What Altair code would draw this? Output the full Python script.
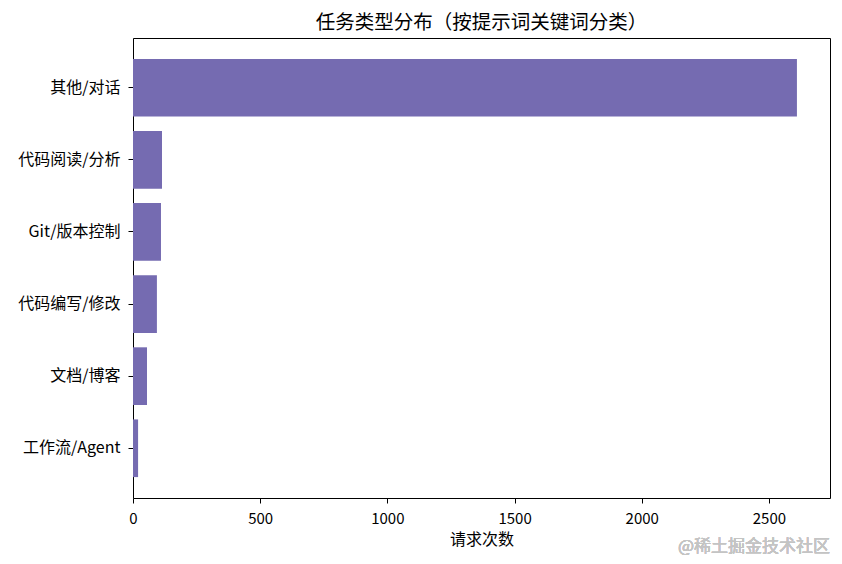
import altair as alt
import pandas as pd

categories = ["其他/对话", "代码阅读/分析", "Git/版本控制", "代码编写/修改", "文档/博客", "工作流/Agent"]
counts = [2610, 114, 110, 94, 55, 20]
x_ticks = [0, 500, 1000, 1500, 2000, 2500]

df = pd.DataFrame({"category": categories, "count": counts})

FONT = "Noto Sans CJK SC"

xscale = alt.Scale(domain=[0, 2740], nice=False, zero=True)
yscale = alt.Scale(paddingInner=0.2, paddingOuter=0.29)

bars = alt.Chart(df).mark_bar(color="#756bb1").encode(
    x=alt.X("count:Q", title="请求次数", scale=xscale,
            axis=alt.Axis(values=x_ticks, format="d", grid=False, labelFlush=False,
                          domainColor="black", tickColor="black", tickSize=5,
                          labelColor="black", labelFontSize=15, labelFont=FONT,
                          titleFont=FONT, titleFontSize=16, titleFontWeight="normal",
                          titleColor="black", titlePadding=5, labelPadding=8)),
    y=alt.Y("category:N", sort=categories, title=None, scale=yscale,
            axis=alt.Axis(domainColor="black", tickColor="black", tickSize=5,
                          labelColor="black", labelFontSize=16, labelFont=FONT,
                          labelPadding=8)),
)

frame = alt.Chart(df).mark_bar(opacity=0).encode(
    x=alt.X("count:Q", scale=xscale,
            axis=alt.Axis(orient="top", labels=False, ticks=False, grid=False,
                          domainColor="black", title=None)),
    y=alt.Y("category:N", sort=categories, scale=yscale,
            axis=alt.Axis(orient="right", labels=False, ticks=False, grid=False,
                          domainColor="black", title=None)),
)

watermark = alt.Chart(df).mark_text(
    text="@稀土掘金技术社区", color="#c4c4c4", fontSize=17, font=FONT, align="right", baseline="middle"
).encode(x=alt.value(697), y=alt.value(509))

chart = alt.layer(bars, frame, watermark).resolve_axis(x="independent", y="independent").properties(
    width=697, height=460,
    title=alt.TitleParams("任务类型分布（按提示词关键词分类）", font=FONT, fontSize=19.5,
                          fontWeight="normal", color="black", offset=5),
    autosize=alt.AutoSizeParams(type="none"),
    padding={"left": 125, "top": 30, "right": 4, "bottom": 66},
).configure_view(stroke=None).configure(background="white")

chart.save("out.html", embed_options={"renderer": "svg", "actions": False})
